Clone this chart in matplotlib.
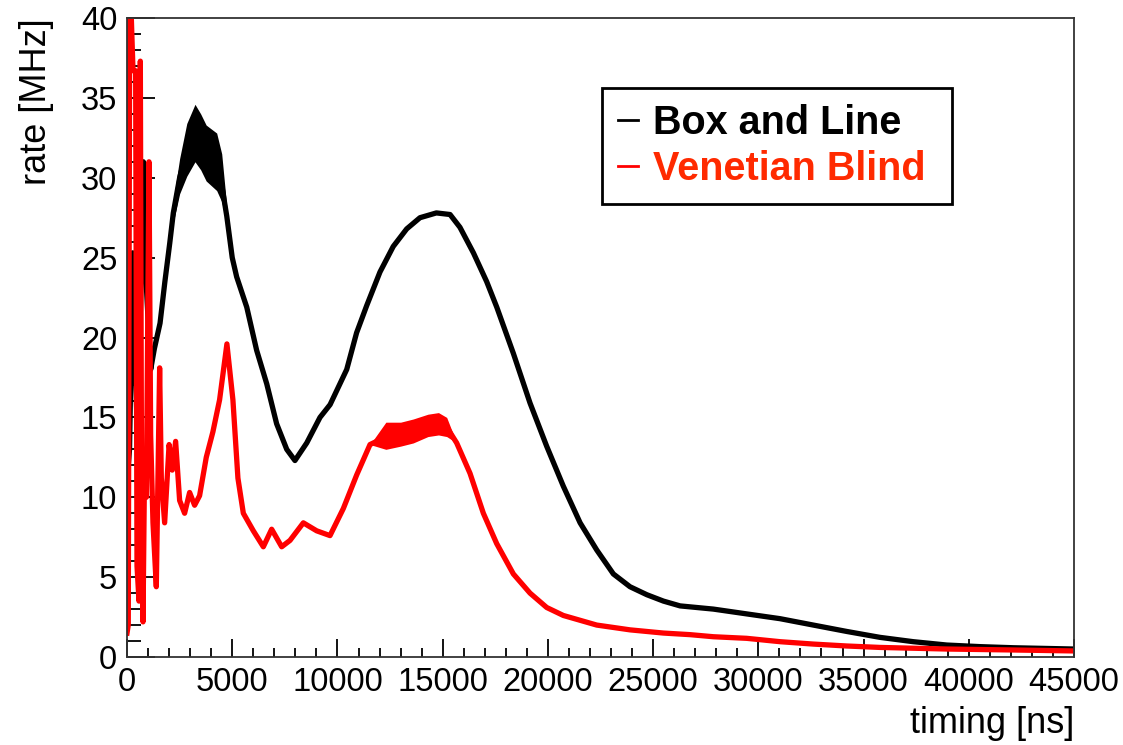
import numpy as np
import matplotlib
matplotlib.use("Agg")
import matplotlib.pyplot as plt
from matplotlib.ticker import MultipleLocator

plt.rcParams['font.family'] = ['Liberation Sans', 'DejaVu Sans']

# Box and Line (black)
bl_t = [0, 120, 270, 400, 520, 640, 775, 900, 1125, 1300, 1570, 1800, 2030, 2200,
        2500, 2840, 3230, 3500, 3760, 4000, 4260, 4420, 4740, 5000, 5210, 5690,
        6160, 6640, 7110, 7590, 7980, 8540, 9170, 9650, 10440, 10910, 11390,
        12020, 12650, 13290, 13920, 14700, 15350, 15820, 16460, 17090, 17570,
        18360, 19150, 19940, 20730, 21530, 22320, 23110, 23900, 24700, 25490,
        26280, 27860, 29440, 31030, 32610, 34200, 35780, 37360, 38950, 40530,
        42120, 45000]
bl_v = [11.0, 13.0, 25.3, 18.0, 12.8, 22.0, 31.0, 23.7, 18.0, 19.3, 20.9, 23.5,
        25.9, 27.8, 30.0, 31.7, 32.8, 32.3, 31.5, 31.2, 31.0, 30.2, 27.6, 25.0,
        23.8, 21.9, 19.2, 17.1, 14.6, 13.0, 12.3, 13.4, 15.0, 15.8, 18.0, 20.3,
        22.0, 24.1, 25.7, 26.8, 27.5, 27.8, 27.7, 26.9, 25.3, 23.5, 21.9, 19.0,
        15.9, 13.2, 10.7, 8.4, 6.7, 5.2, 4.4, 3.9, 3.5, 3.2, 3.0, 2.7, 2.4, 2.0,
        1.6, 1.23, 0.96, 0.75, 0.65, 0.58, 0.5]

# noisy band around the first black peak
bl_band_t = [2200, 2500, 2840, 3230, 3500, 3760, 4260, 4500, 4740]
bl_band_lo = [27.2, 29.0, 30.1, 31.0, 30.5, 29.8, 29.2, 28.5, 27.0]
bl_band_hi = [28.6, 31.2, 33.4, 34.6, 34.0, 33.3, 32.8, 31.5, 28.2]

# Venetian Blind (red)
vb_t = [0, 60, 127, 205, 285, 410, 475, 570, 633, 696, 760, 838, 918, 1044, 1123,
        1234, 1392, 1550, 1630, 1788, 2000, 2150, 2310, 2500, 2737, 2975, 3212,
        3449, 3766, 4082, 4399, 4747, 5032, 5270, 5527, 6002, 6477, 6873, 7350,
        7745, 8378, 9012, 9646, 10280, 10914, 11547, 12339, 13606, 14556, 15190,
        15665, 16298, 16932, 17566, 18358, 19150, 19943, 20734, 22318, 23902,
        25486, 26754, 27860, 29443, 31027, 32611, 34196, 35780, 38948, 42115, 45000]
vb_v = [1.5, 2.0, 40.0, 40.0, 36.7, 36.7, 5.7, 3.5, 37.3, 8.4, 2.2, 12.5, 10.0,
        31.0, 13.9, 8.4, 4.4, 18.1, 11.2, 8.4, 13.3, 11.7, 13.5, 9.8, 9.0, 10.3,
        9.5, 10.1, 12.5, 14.1, 16.1, 19.6, 16.1, 11.2, 9.0, 7.9, 6.9, 8.0, 6.9,
        7.3, 8.4, 7.9, 7.6, 9.3, 11.4, 13.3, 13.8, 14.2, 14.8, 14.4, 13.4, 11.5,
        9.0, 7.1, 5.2, 4.0, 3.1, 2.6, 2.0, 1.7, 1.5, 1.4, 1.27, 1.17, 0.96, 0.81,
        0.69, 0.6, 0.5, 0.44, 0.38]

vb_band_t = [11547, 12300, 13000, 13600, 14300, 14800, 15190, 15665]
vb_band_lo = [13.3, 13.0, 13.2, 13.4, 13.8, 13.9, 13.8, 13.4]
vb_band_hi = [13.3, 14.7, 14.7, 14.9, 15.2, 15.3, 15.0, 13.4]

fig = plt.figure(figsize=(11.23, 7.45), dpi=100)
ax = fig.add_axes([0.1131, 0.1181, 0.8433, 0.8577])

ax.fill_between(bl_band_t, bl_band_lo, bl_band_hi, color='black', lw=0)
ax.plot(bl_t, bl_v, color='black', lw=3.8, label='Box and Line')
ax.fill_between(vb_band_t, vb_band_lo, vb_band_hi, color='red', lw=0)
ax.plot(vb_t, vb_v, color='red', lw=3.8, label='Venetian Blind')

ax.set_xlim(0, 45000)
ax.set_ylim(0, 40)
ax.xaxis.set_major_locator(MultipleLocator(5000))
ax.xaxis.set_minor_locator(MultipleLocator(1000))
ax.yaxis.set_major_locator(MultipleLocator(5))
ax.yaxis.set_minor_locator(MultipleLocator(1))

ax.tick_params(axis='both', which='both', direction='in', labelsize=23.5,
               width=1.3, color='black', top=False, right=False)
ax.tick_params(axis='x', which='major', length=13, pad=7)
ax.tick_params(axis='x', which='minor', length=6.5)
ax.tick_params(axis='y', which='major', length=20, pad=7)
ax.tick_params(axis='y', which='minor', length=10)
for s in ax.spines.values():
    s.set_linewidth(1.3)
    s.set_color('#333333')

fig.text(1074 / 1123, 1 - 733 / 745, 'timing [ns]', ha='right', va='baseline', fontsize=26)
fig.text(37 / 1123, 1 - 18 / 745, 'rate [MHz]', ha='center', va='top', rotation=90, fontsize=26)

# legend box: x 602..952, y 88..200 px
leg = ax.legend(loc='upper left', bbox_to_anchor=(602 / 1123, 1 - 200 / 745, 350 / 1123, 112 / 745),
                bbox_transform=fig.transFigure, mode='expand',
                prop={'weight': 'bold', 'size': 28.5},
                handlelength=0.5, handletextpad=0.4, borderaxespad=0, borderpad=0.4,
                labelspacing=0.2, fancybox=False, framealpha=1, edgecolor='black')
leg.get_frame().set_linewidth(2)
for line in leg.get_lines():
    line.set_linewidth(2)
leg.get_texts()[0].set_color('black')
leg.get_texts()[1].set_color('#ff2a00')

fig.savefig('out.png', dpi=100)
